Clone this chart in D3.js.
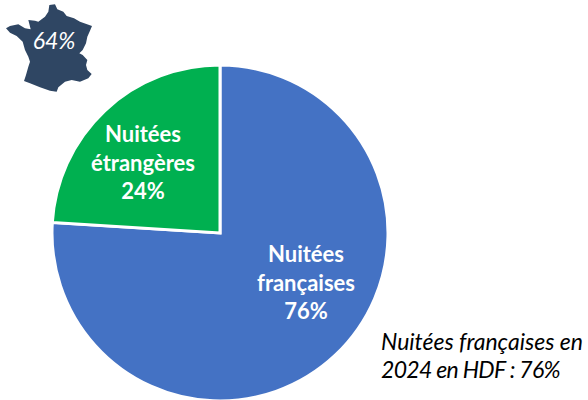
<!DOCTYPE html>
<html>
<head>
<meta charset="utf-8">
<script src="https://d3js.org/d3.v7.min.js"></script>
<style>
  html, body { margin: 0; padding: 0; background: #fff; }
  svg { display: block; }
  text { font-family: Lato, "Open Sans", sans-serif; }
</style>
</head>
<body>
<div id="chart"></div>
<script>
const categories = ["Nuitées françaises", "Nuitées étrangères"];
const values = [76, 24];
const colors = ["#4472c4", "#00b050"];
const labelLines = [["Nuitées", "françaises", "76%"], ["Nuitées", "étrangères", "24%"]];
const noteLines = ["Nuitées françaises en", "2024 en HDF : 76%"];
const mapLabel = "64%";

// outline of France
const franceOutline = [
  [148,15],[165,13],[172,28],[190,35],[200,48],[222,55],[240,65],[276,78],[270,92],[262,110],
  [258,130],[248,150],[238,160],[248,165],[262,180],[258,195],[262,210],[275,222],[265,235],
  [240,245],[215,240],[195,245],[175,262],[170,275],[150,272],[120,262],[90,250],[72,243],
  [78,225],[85,200],[90,185],[85,170],[75,150],[68,125],[50,108],[30,98],[18,85],[30,78],
  [55,73],[75,85],[92,88],[85,60],[105,62],[115,65],[135,50],[145,35]
];

const FRAME_WIDTH = 588;
const FRAME_HEIGHT = 400;
const CENTER = { x: 220, y: 233 };
const RADIUS = 168;
const LABEL_POS = [{ x: 306, y: 262 }, { x: 143, y: 142 }];
const LINE_H = 28.5;

const svg = d3.select("#chart").append("svg")
  .attr("width", FRAME_WIDTH)
  .attr("height", FRAME_HEIGHT);

const pie = d3.pie().sort(null)(values);
const arc = d3.arc().innerRadius(0).outerRadius(RADIUS);

svg.append("g")
  .attr("transform", "translate(" + CENTER.x + "," + CENTER.y + ")")
  .selectAll("path")
  .data(pie)
  .enter()
  .append("path")
  .attr("d", arc)
  .attr("fill", (d, i) => colors[i])
  .attr("stroke", "#fff")
  .attr("stroke-width", 3)
  .append("title")
  .text((d, i) => categories[i]);

// slice labels
labelLines.forEach((lines, i) => {
  svg.append("text")
    .attr("text-anchor", "middle")
    .attr("fill", "#fff")
    .attr("font-weight", "bold")
    .attr("font-size", "22px")
    .selectAll("tspan")
    .data(lines)
    .enter()
    .append("tspan")
    .attr("x", LABEL_POS[i].x)
    .attr("y", (d, j) => LABEL_POS[i].y + j * LINE_H)
    .text((d) => d);
});

// map of France in the corner
const mapLine = d3.line().curve(d3.curveLinearClosed)
  .x((d) => d[0] / 3)
  .y((d) => d[1] / 3);

svg.append("path")
  .attr("d", mapLine(franceOutline))
  .attr("fill", "#2f4663");

svg.append("text")
  .attr("x", 54)
  .attr("y", 49)
  .attr("text-anchor", "middle")
  .attr("fill", "#fff")
  .attr("font-style", "italic")
  .attr("font-size", "23px")
  .text(mapLabel);

// note bottom right
svg.append("text")
  .attr("font-style", "italic")
  .attr("font-size", "23px")
  .attr("fill", "#000")
  .selectAll("tspan")
  .data(noteLines)
  .enter()
  .append("tspan")
  .attr("x", 381)
  .attr("y", (d, i) => 350 + i * 28)
  .attr("letter-spacing", (d, i) => (i === 1 ? "-0.7px" : null))
  .text((d) => d);
</script>
</body>
</html>
